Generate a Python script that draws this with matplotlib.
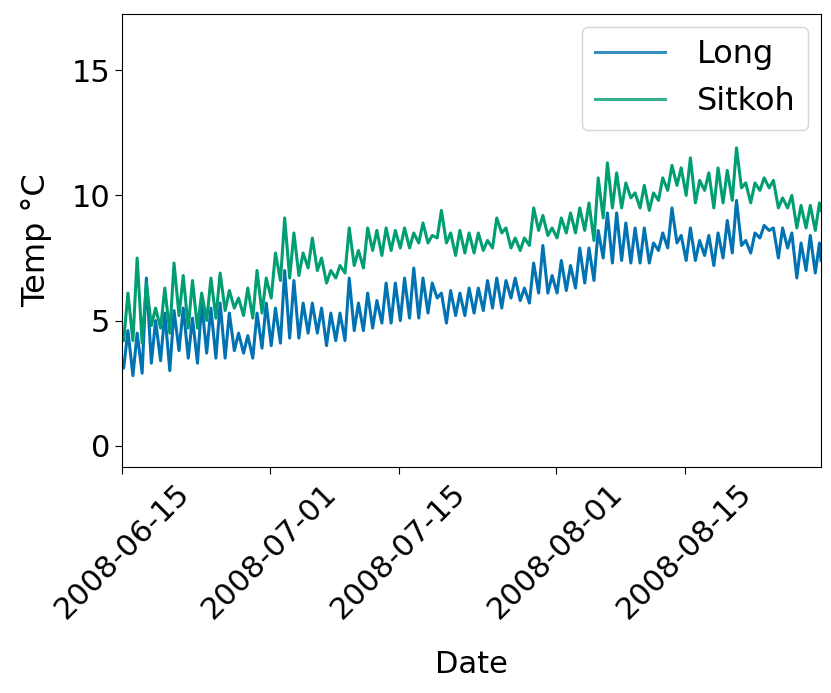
import matplotlib
matplotlib.use('Agg')
import matplotlib.pyplot as plt
import matplotlib.dates as mdates
import pandas as pd

# daily low / high readings, one pair per day from 2008-06-15
start_day = '2008-06-15'

long_low = [3.1, 2.8, 2.9, 3.3, 3.4, 3.0, 3.8, 3.5, 3.3, 3.7, 3.5,
            3.5, 3.8, 3.7, 3.5, 3.9, 4.0, 4.1, 4.3, 4.3, 4.5, 4.5,
            4.0, 4.2, 4.2, 4.6, 4.6, 4.7, 4.9, 4.9, 5.0, 5.1, 5.1,
            5.3, 5.9, 4.9, 5.2, 5.2, 5.3, 5.4, 5.5, 5.5, 5.9, 5.8,
            5.7, 6.1, 6.1, 6.1, 6.2, 6.3, 6.5, 6.6, 7.5, 7.3,
            7.4, 7.3, 7.3, 7.3, 7.8, 7.9, 8.1, 7.4, 7.4, 7.6, 7.2,
            7.5, 7.7, 8.0, 7.7, 8.3, 8.6, 7.5, 7.9, 6.7, 7.0, 6.9]
long_high = [4.6, 4.5, 6.7, 5.0, 5.3, 5.4, 5.5, 5.1, 5.7, 5.5, 5.7,
             5.3, 4.5, 4.4, 5.3, 5.7, 5.5, 7.0, 6.6, 5.7, 5.7, 5.5,
             5.3, 5.3, 6.7, 5.7, 6.1, 5.8, 6.5, 6.5, 6.7, 7.1, 6.7,
             6.5, 6.1, 6.2, 6.1, 6.3, 6.3, 6.6, 6.7, 6.6, 6.7, 6.3,
             7.3, 8.0, 6.8, 7.4, 7.2, 7.9, 7.9, 8.6, 9.3, 9.3,
             8.9, 8.7, 8.7, 8.1, 8.5, 9.5, 8.4, 8.7, 8.2, 8.4, 8.5,
             9.0, 9.8, 8.2, 8.5, 8.8, 8.7, 8.7, 8.5, 8.1, 8.4, 8.1]

sitkoh_low = [4.2, 4.2, 4.1, 4.8, 4.7, 4.5, 5.2, 4.7, 4.7, 5.0, 5.1,
              5.4, 5.5, 5.2, 5.1, 5.3, 5.9, 6.6, 6.7, 6.8, 7.1, 7.0,
              6.5, 6.7, 6.9, 7.2, 7.1, 7.8, 7.6, 7.8, 7.9, 7.9, 8.1,
              8.1, 8.3, 8.1, 7.6, 7.7, 7.7, 7.8, 7.9, 8.5, 7.9, 7.8,
              8.0, 8.6, 8.4, 8.3, 8.5, 8.5, 8.6, 8.2, 9.1, 9.5,
              9.5, 9.9, 9.5, 9.4, 9.8, 10.2, 10.4, 10.0, 9.7, 10.2, 9.5,
              9.7, 9.8, 10.3, 9.7, 10.2, 10.3, 9.5, 9.5, 8.7, 8.7, 8.6]
sitkoh_high = [6.1, 7.5, 6.5, 5.5, 6.3, 7.3, 6.8, 6.6, 6.1, 6.7, 6.9,
               6.2, 5.9, 6.3, 7.0, 6.7, 7.7, 9.1, 8.5, 7.7, 8.3, 7.5,
               7.0, 7.2, 8.7, 7.8, 8.7, 8.6, 8.7, 8.6, 8.7, 8.5, 8.9,
               8.4, 9.4, 8.5, 8.6, 8.5, 8.5, 8.2, 9.1, 8.7, 8.3, 8.3,
               9.5, 9.2, 8.7, 9.1, 9.3, 9.5, 9.7, 10.7, 11.3, 10.9,
               10.5, 10.1, 10.4, 10.1, 10.7, 11.2, 11.1, 11.5, 10.6, 10.9, 11.1,
               11.0, 11.9, 10.5, 10.5, 10.7, 10.6, 9.9, 10.0, 9.6, 9.6, 9.7]

long_first, long_last = 3.4, 7.4
sitkoh_first, sitkoh_last = 4.3, 9.4


def build_series(lows, highs, first, last):
    days = pd.date_range(start_day, periods=len(lows), freq='D')
    times = [days[0]]
    vals = [first]
    for d, lo, hi in zip(days, lows, highs):
        times += [d + pd.Timedelta(hours=4), d + pd.Timedelta(hours=15)]
        vals += [lo, hi]
    times.append(days[-1] + pd.Timedelta(hours=19))
    vals.append(last)
    return pd.Series(vals, index=pd.DatetimeIndex(times))


long_s = build_series(long_low, long_high, long_first, long_last)
sitkoh_s = build_series(sitkoh_low, sitkoh_high, sitkoh_first, sitkoh_last)

plt.rcParams['font.family'] = 'DejaVu Sans'
fig = plt.figure(figsize=(8.31, 6.93), dpi=100)
ax = fig.add_axes([0.147, 0.326, 0.841, 0.654])

ax.plot(long_s.index, long_s.values, color='#0173B2', lw=2.2, label='Long')
ax.plot(sitkoh_s.index, sitkoh_s.values, color='#029E73', lw=2.2, label='Sitkoh')

ax.set_xlim(long_s.index[0], long_s.index[-1])
ax.set_ylim(-0.85, 17.25)
ax.set_yticks([0, 5, 10, 15])

ax.xaxis.set_major_locator(mdates.DayLocator(bymonthday=[1, 15]))
ax.xaxis.set_major_formatter(mdates.DateFormatter('%Y-%m-%d'))
ax.tick_params(labelsize=22, length=5)
plt.setp(ax.get_xticklabels(), rotation=45, ha='center')

ax.set_xlabel('Date', fontsize=22, labelpad=18)
ax.set_ylabel('Temp °C', fontsize=23, labelpad=14)

leg = ax.legend(loc='upper right', fontsize=23, handlelength=2.2,
                handletextpad=1.0, borderaxespad=0.4)
leg.get_frame().set_edgecolor('#cccccc')
for h in leg.get_lines():
    h.set_alpha(0.8)

fig.savefig('out.png', dpi=100)
